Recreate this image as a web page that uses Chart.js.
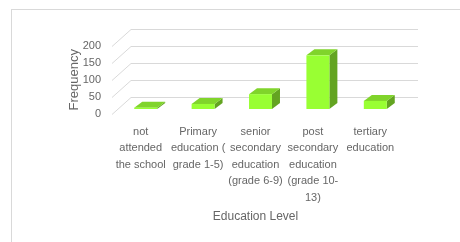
<!DOCTYPE html>
<html>
<head>
<meta charset="utf-8">
<script src="https://cdn.jsdelivr.net/npm/chart.js@4/dist/chart.umd.min.js"></script>
<style>
  html, body { margin: 0; padding: 0; background: #fff; }
  #frame {
    position: absolute; left: 11px; top: 9px; right: -2px; bottom: -2px;
    border-left: 1px solid #d9d9d9; border-top: 1px solid #d9d9d9;
  }
  #chart { position: absolute; left: 0; top: 0; }
</style>
</head>
<body>
<div id="frame"></div>
<canvas id="chart" width="460" height="242"></canvas>
<script>
// Education level categories (multi-line labels as in the original)
const categories = [
    ['not', 'attended', 'the school'],
    ['Primary', 'education (', 'grade 1-5)'],
    ['senior', 'secondary', 'education', '(grade 6-9)'],
    ['post', 'secondary', 'education', '(grade 10-', '13)'],
    ['tertiary', 'education']
];
// Frequency per education level
const frequency = [4, 15, 44, 159, 24];
// y axis ticks
const yTicks = [0, 50, 100, 150, 200];

const FONT = "'Liberation Sans Narrow', 'Liberation Sans', sans-serif";
const TEXT = '#666666';
const GRID = '#d9d9d9';

// 3D look: depth of the floor and of the bars
const FLOOR_DX = 19, FLOOR_DY = -17;
const BAR_FX = 5, BAR_FY = -4.5;   // front face offset inside the floor
const BAR_DX = 8, BAR_DY = -6;     // bar depth

const colors = {
    front: '#99ff33',
    top: '#80d42b',
    side: '#63a421'
};

// slanted gridlines + back wall lines
const grid3d = {
    id: 'grid3d',
    beforeDatasetsDraw: function(chart) {
        const ctx = chart.ctx;
        const y = chart.scales.y;
        const area = chart.chartArea;
        ctx.save();
        ctx.strokeStyle = GRID;
        ctx.lineWidth = 1;
        yTicks.forEach(function(v) {
            const py = Math.round(y.getPixelForValue(v)) + 0.5;
            ctx.beginPath();
            ctx.moveTo(area.left, py);
            ctx.lineTo(area.left + FLOOR_DX, py + FLOOR_DY);
            ctx.lineTo(area.right + FLOOR_DX, py + FLOOR_DY);
            ctx.stroke();
        });
        ctx.restore();
    }
};

// front, top and side faces of every bar
const bars3d = {
    id: 'bars3d',
    afterDatasetsDraw: function(chart) {
        const ctx = chart.ctx;
        const meta = chart.getDatasetMeta(0);
        ctx.save();
        meta.data.forEach(function(bar) {
            const p = bar.getProps(['x', 'y', 'base', 'width'], true);
            const L = p.x - p.width / 2 + BAR_FX;
            const R = p.x + p.width / 2 + BAR_FX;
            const T = p.y + BAR_FY;
            const B = p.base + BAR_FY;

            ctx.fillStyle = colors.side;
            ctx.beginPath();
            ctx.moveTo(R, T);
            ctx.lineTo(R + BAR_DX, T + BAR_DY);
            ctx.lineTo(R + BAR_DX, B + BAR_DY);
            ctx.lineTo(R, B);
            ctx.closePath();
            ctx.fill();

            ctx.fillStyle = colors.top;
            ctx.beginPath();
            ctx.moveTo(L, T);
            ctx.lineTo(R, T);
            ctx.lineTo(R + BAR_DX, T + BAR_DY);
            ctx.lineTo(L + BAR_DX, T + BAR_DY);
            ctx.closePath();
            ctx.fill();

            ctx.fillStyle = colors.front;
            ctx.fillRect(L, T, R - L, B - T);
        });
        ctx.restore();
    }
};

new Chart(document.getElementById('chart'), {
    type: 'bar',
    data: {
        labels: categories,
        datasets: [{
            data: frequency,
            backgroundColor: 'rgba(0,0,0,0)',
            borderWidth: 0,
            categoryPercentage: 0.8,
            barPercentage: 0.5
        }]
    },
    plugins: [grid3d, bars3d],
    options: {
        responsive: false,
        animation: false,
        events: [],
        layout: { padding: { left: 0, top: 46, right: 61, bottom: 0 } },
        plugins: {
            legend: { display: false },
            tooltip: { enabled: false }
        },
        scales: {
            x: {
                grid: { display: false, drawTicks: false },
                border: { display: false },
                ticks: {
                    color: TEXT,
                    font: { family: FONT, size: 11, lineHeight: 1.5 },
                    padding: 10,
                    maxRotation: 0,
                    autoSkip: false
                },
                title: {
                    display: true,
                    text: 'Education Level',
                    color: TEXT,
                    font: { family: FONT, size: 12 },
                    padding: { top: 0, bottom: 18 }
                },
                afterFit: function(scale) { scale.height = 128.5; }
            },
            y: {
                min: 0,
                max: 200,
                grid: { display: false, drawTicks: false },
                border: { display: false },
                afterBuildTicks: function(scale) {
                    scale.ticks = yTicks.map(function(v) { return { value: v }; });
                },
                ticks: {
                    color: TEXT,
                    font: { family: FONT, size: 11 },
                    padding: 11
                },
                title: {
                    display: true,
                    text: 'Frequency',
                    color: TEXT,
                    font: { family: FONT, size: 13 },
                    padding: { top: 67, bottom: 0 }
                },
                afterFit: function(scale) { scale.width = 112; }
            }
        }
    }
});
</script>
</body>
</html>
